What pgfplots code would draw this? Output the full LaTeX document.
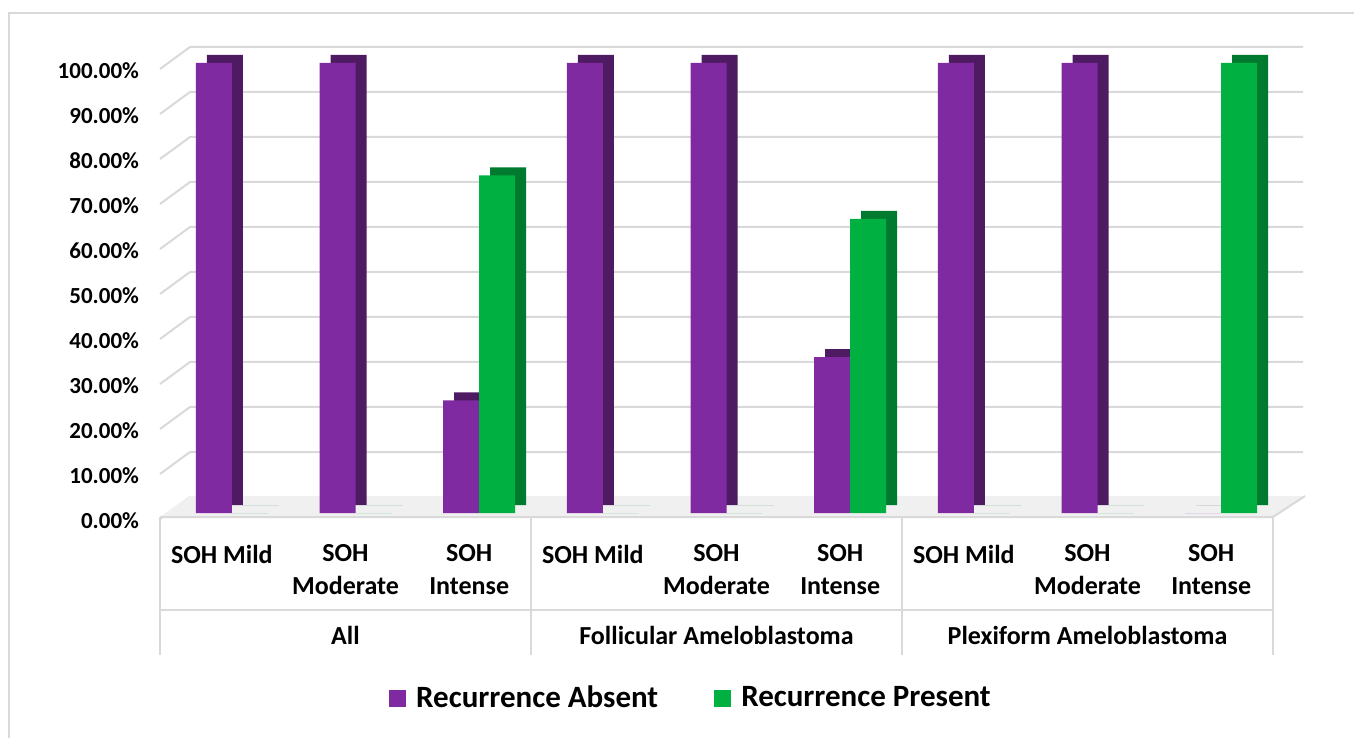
\documentclass[border=0pt]{standalone}
\usepackage{pgfplots}
\usepackage{pgfplotstable}
\pgfplotsset{compat=1.18}
\usepackage{fontspec}
\setmainfont{Carlito}

\definecolor{purfront}{HTML}{7F2AA0}
\definecolor{purside}{HTML}{4E1A62}
\definecolor{grnfront}{HTML}{00B040}
\definecolor{grnside}{HTML}{007A2E}
\definecolor{gridc}{HTML}{D9D9D9}

\pgfplotstableread{
x absent present
0 100 0
1 100 0
2 25 75
3 100 0
4 100 0
5 34.62 65.38
6 100 0
7 100 0
8 0 100
}\soh

\begin{document}
\begin{tikzpicture}
\begin{axis}[
    at={(0,0)}, anchor=south west,
    scale only axis,
    width=556.5pt, height=225pt,
    ymin=0, ymax=100,
    xmin=-0.5, xmax=8.5,
    clip=false,
    axis line style={draw=none},
    tick style={draw=none},
    ybar, bar width=18pt,
    ytick={0,10,...,100},
    /pgf/number format/assume math mode=true,
    yticklabel={\pgfmathprintnumber[fixed,fixed zerofill,precision=2]{\tick}\%},
    yticklabel style={font=\fontsize{11.5}{13}\selectfont\bfseries, yshift=-4pt, xshift=-7pt},
    xtick={0,...,8},
    xticklabels={SOH Mild,{SOH\\Moderate},{SOH\\Intense},SOH Mild,{SOH\\Moderate},{SOH\\Intense},SOH Mild,{SOH\\Moderate},{SOH\\Intense}},
    xticklabel style={font=\fontsize{13}{16.5}\selectfont\bfseries, align=center, anchor=north, inner sep=0pt, yshift=-11.5pt},
    legend style={at={(axis description cs:0.478,-0.412)}, anchor=center, draw=none,
        legend columns=-1, font=\fontsize{15.5}{18}\selectfont\bfseries,
        /tikz/every odd column/.append style={column sep=3pt},
        /tikz/every even column/.append style={column sep=26pt}},
    legend image code/.code={\fill[#1] (0pt,-4.25pt) rectangle (8.5pt,4.25pt);},
]
% back wall grid and side diagonals
\pgfplotsinvokeforeach{0,10,...,100}{
  \draw[gridc, line width=1pt] ([yshift=-3pt]axis cs:-0.5,#1) -- ([xshift=15pt,yshift=8pt]axis cs:-0.5,#1) -- ([xshift=15pt,yshift=8pt]axis cs:8.5,#1);
}
% floor
\fill[gray!12] ([yshift=-2pt]axis cs:-0.5,0) -- ([yshift=-2pt]axis cs:8.5,0) -- ([xshift=16pt,yshift=8.5pt]axis cs:8.5,0) -- ([xshift=15pt,yshift=8.5pt]axis cs:-0.5,0) -- cycle;
\draw[gridc, line width=1pt] ([yshift=-2pt]axis cs:-0.5,0) -- ([yshift=-2pt]axis cs:8.5,0) -- ([xshift=16pt,yshift=8.5pt]axis cs:8.5,0);

\addplot[forget plot, draw=none, fill=purside, bar shift=-4pt, xshift=5.5pt, yshift=4pt] table[x=x, y=absent] {\soh};
\addplot[draw=none, fill=purfront, bar shift=-4pt] table[x=x, y=absent] {\soh};
\addplot[forget plot, draw=none, fill=grnside, bar shift=14pt, xshift=5.5pt, yshift=4pt] table[x=x, y=present] {\soh};
\addplot[draw=none, fill=grnfront, bar shift=14pt] table[x=x, y=present] {\soh};
\legend{Recurrence Absent, Recurrence Present}

% category separators
\pgfplotsinvokeforeach{-0.5,2.5,5.5,8.5}{
  \draw[gridc, line width=1pt] ([yshift=-2pt]axis cs:#1,0) -- ([yshift=-71pt]axis cs:#1,0);
}
\draw[gridc, line width=1pt] ([yshift=-48.5pt]axis cs:-0.5,0) -- ([yshift=-48.5pt]axis cs:8.5,0);
\node[anchor=base, font=\fontsize{13}{16.5}\selectfont\bfseries] at ([yshift=-65.5pt]axis cs:1,0) {All};
\node[anchor=base, font=\fontsize{13}{16.5}\selectfont\bfseries] at ([yshift=-65.5pt]axis cs:4,0) {Follicular Ameloblastoma};
\node[anchor=base, font=\fontsize{13}{16.5}\selectfont\bfseries] at ([yshift=-65.5pt]axis cs:7,0) {Plexiform Ameloblastoma};
\end{axis}
\draw[gridc, line width=1pt] (-75.5pt,-120pt) -- (-75.5pt,250pt) -- (610pt,250pt);
\pgfresetboundingbox
\useasboundingbox (-80pt,-112.5pt) rectangle (597pt,256.5pt);
\end{tikzpicture}
\end{document}
